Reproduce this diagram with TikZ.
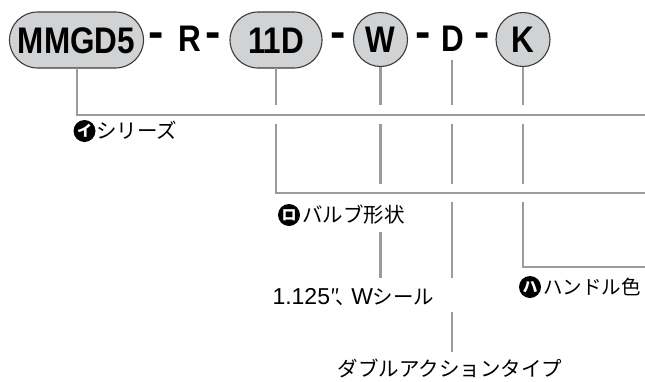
\documentclass[tikz,border=0pt]{standalone}
\usepackage{fontspec}
\setmainfont{Liberation Sans}
\newfontfamily\codefont{Liberation Sans}[FakeStretch=0.85]
\newfontfamily\jp{Noto Sans CJK JP}
\newfontfamily\lat{Liberation Sans}
\definecolor{lnc}{RGB}{155,155,155}
\definecolor{pillfill}{RGB}{209,210,211}
\definecolor{pilldraw}{RGB}{60,60,60}
\tikzset{
  x=1pt,y=-1pt,
  code/.style={font=\codefont\bfseries\fontsize{37}{37}\selectfont, text height=26.5pt, text depth=0pt, inner sep=0pt},
  pill/.style={code, draw=pilldraw, line width=1.1pt, fill=pillfill, rounded corners=28pt, minimum height=56pt},
  ring/.style={code, draw=pilldraw, line width=1.1pt, fill=pillfill, circle, minimum size=54pt},
  dashmark/.style={font=\lat\bfseries\fontsize{46}{46}\selectfont, inner sep=0pt, anchor=base},
  conn/.style={draw=lnc, line width=2.4pt},
  badge/.style={circle, fill=black, inner sep=0pt, minimum size=22pt, text=white, font=\jp\bfseries\fontsize{15}{15}\selectfont},
  lab/.style={font=\jp\fontsize{20.5}{20.5}\selectfont, text height=18pt, text depth=2.5pt, inner sep=0pt}
}
\begin{document}
\begin{tikzpicture}
\useasboundingbox (0,0) rectangle (645,381);
% top row
\node[pill, minimum width=134pt] (mm) at (76.5,40) {MMGD5};
\node[dashmark] (d1) at (156,47) {-};
\node[code] (r) at (190,38) {R};
\node[dashmark] (d2) at (213,47) {-};
\node[pill, minimum width=92pt] (dd) at (276,40) {11D};
\node[dashmark] (d3) at (338,47) {-};
\node[ring] (w) at (380.5,39.5) {W};
\node[dashmark] (d4) at (423,47) {-};
\node[code] (dl) at (452.5,38) {D};
\node[dashmark] (d5) at (482,47) {-};
\node[ring] (k) at (523,39.5) {K};
% labels
\node[badge] (b1) at (84.5,131) {イ};
\node[lab, anchor=west] (l1) at (96,131) {シリーズ};
\node[badge] (b2) at (289,215) {ロ};
\node[lab, anchor=west] (l2) at (302,215) {バルブ形状};
\node[lab] (l3) at (353.5,297) {\lat\fontsize{23}{23}\selectfont 1.125\jp\fontsize{20.5}{20.5}\selectfont ″\hspace{-4pt}、\hspace{-5pt}\lat\fontsize{23}{23}\selectfont W\jp\fontsize{20.5}{20.5}\selectfont シール};
\node[badge] (b3) at (530,287) {ハ};
\node[lab, anchor=west, font=\jp\fontsize{19.5}{19.5}\selectfont] (l4) at (543,287) {ハンドル色};
\node[lab] (l5) at (450,369) {ダブルアクションタイプ};
% coordinates
\coordinate (e1) at (645,115);
\coordinate (e2) at (645,193);
\coordinate (e3) at (645,267);
\coordinate (mmv) at (77,68);
\coordinate (ddv) at (276,68);
\coordinate (ddb) at (276,105);
\coordinate (ddc) at (276,124);
\coordinate (wa) at (380.5,105);
\coordinate (wb) at (380.5,124);
\coordinate (wc) at (380.5,184);
\coordinate (wd) at (380.5,232);
\coordinate (we) at (380.5,278);
\coordinate (da) at (452,60);
\coordinate (db) at (452,105);
\coordinate (dc) at (452,124);
\coordinate (dd1) at (452,184);
\coordinate (de) at (452,202);
\coordinate (df) at (452,278);
\coordinate (dg) at (452,312);
\coordinate (dh) at (452,352);
\coordinate (ka) at (523,105);
\coordinate (kb) at (523,124);
\coordinate (kc) at (523,184);
\coordinate (kd) at (523,202);
% connectors
\draw[conn] (mmv) |- (e1);
\draw[conn] (ddv) -- (ddb);
\draw[conn] (ddc) |- (e2);
\draw[conn] (w.south) -- (wa);
\draw[conn] (wb) -- (wc);
\draw[conn] (wd) -- (we);
\draw[conn] (da) -- (db);
\draw[conn] (dc) -- (dd1);
\draw[conn] (de) -- (df);
\draw[conn] (dg) -- (dh);
\draw[conn] (k.south) -- (ka);
\draw[conn] (kb) -- (kc);
\draw[conn] (kd) |- (e3);
\end{tikzpicture}
\end{document}
